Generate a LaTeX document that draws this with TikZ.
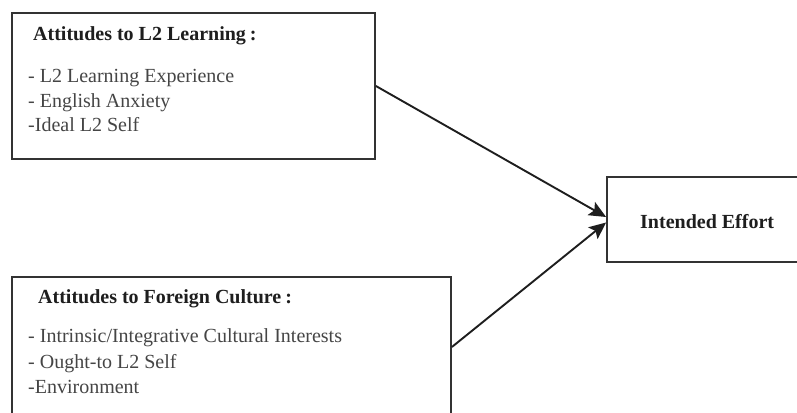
\documentclass[tikz,border=0pt]{standalone}
\usepackage{fontspec}
\setmainfont{Liberation Serif}
\usetikzlibrary{arrows.meta}
\definecolor{frame}{HTML}{333333}
\definecolor{heading}{HTML}{1E1E1E}
\definecolor{bodytext}{HTML}{454545}
\tikzset{
  box/.style={draw=frame, line width=1.8pt, fill=white, rectangle, inner sep=0pt},
  headtext/.style={anchor=base west, inner sep=0pt, text=heading, font=\fontsize{20}{24}\selectfont\bfseries},
  itemtext/.style={anchor=base west, inner sep=0pt, text=bodytext, font=\fontsize{20}{24}\selectfont},
  link/.style={draw=heading, line width=1.9pt, -{Stealth[length=17pt, width=15pt, inset=3.5pt]}}
}
\begin{document}
\begin{tikzpicture}[x=1pt, y=-1pt]
\useasboundingbox (0,0) rectangle (797,412);
\clip (0,0) rectangle (797,412);
\fill[white] (0,0) rectangle (797,412);

% source boxes
\node[box, minimum width=363pt, minimum height=146pt] (learn) at (193.5,86) {};
\node[box, minimum width=439pt, minimum height=160pt] (culture) at (231.5,357) {};
% target box
\node[box, minimum width=200pt, minimum height=85pt] (effort) at (707,219.5) {};

% texts of the first box
\node[headtext] (lh) at (33,41) {Attitudes to L2 Learning\hspace{4pt}:};
\node[itemtext] (l1) at (28,82) {- L2 Learning Experience};
\node[itemtext] (l2) at (28,107) {- English Anxiety};
\node[itemtext] (l3) at (28,131.5) {-Ideal L2 Self};

% texts of the second box
\node[headtext] (ch) at (38,303) {Attitudes to Foreign Culture\hspace{4pt}:};
\node[itemtext] (c1) at (28,342) {- Intrinsic/Integrative Cultural Interests};
\node[itemtext] (c2) at (28,368) {- Ought-to L2 Self};
\node[itemtext] (c3) at (28,393) {-Environment};

% text of the target box
\node[headtext] (et) at (640,228) {Intended Effort};

% connectors (canvas y points up, so a positive yshift moves a point up)
\coordinate (s1) at (learn.east);
\coordinate (s2) at ([yshift=10pt]culture.east);
\coordinate (t1) at ([yshift=2.5pt]effort.west);
\coordinate (t2) at ([yshift=-3pt]effort.west);
\draw[link] (s1) -- (t1);
\draw[link] (s2) -- (t2);
\end{tikzpicture}
\end{document}
